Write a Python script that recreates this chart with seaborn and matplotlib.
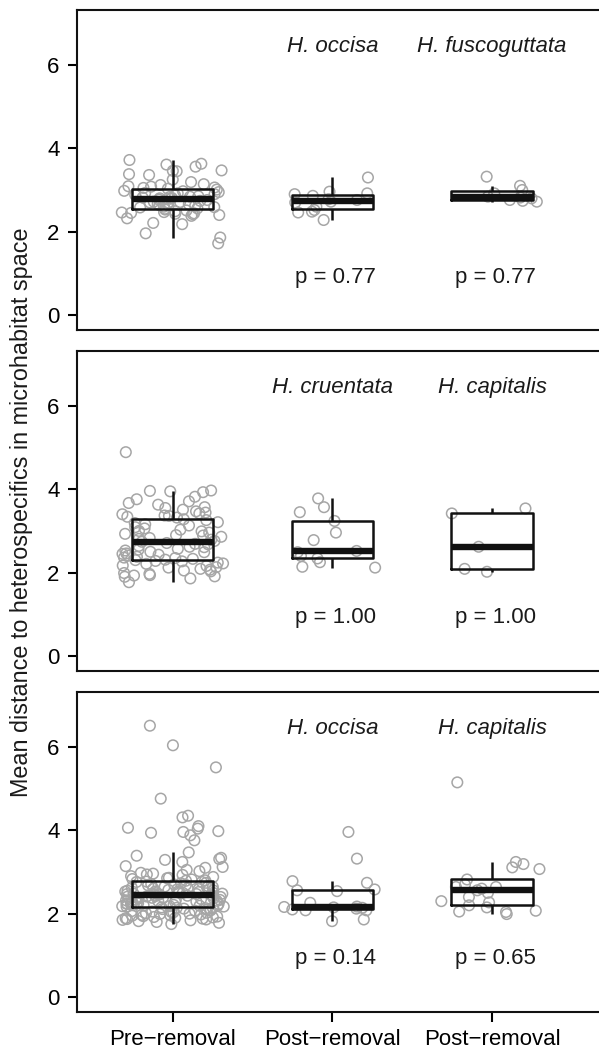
import numpy as np
import pandas as pd
import matplotlib
matplotlib.use("Agg")
import matplotlib.pyplot as plt
import seaborn as sns

# ---------------- data ----------------
group_order = ["pre", "post_a", "post_b"]
xtick_labels = ["Pre\u2212removal", "Post\u2212removal", "Post\u2212removal"]

# Panel 1
pre_1 = [3.72, 3.63, 3.61, 3.56, 3.47, 3.45, 3.46, 3.38, 3.36, 3.25, 3.19, 3.14, 3.12, 3.09, 3.08, 3.06, 3.05,
         3.03, 3.01, 2.98, 2.97, 2.95, 2.93, 2.92, 2.90, 2.88, 2.87, 2.85, 2.84, 2.83, 2.82, 2.81, 2.80, 2.79,
         2.77, 2.76, 2.74, 2.72, 2.71, 2.70, 2.69, 2.67, 2.66, 2.64, 2.63, 2.62, 2.60, 2.59, 2.58, 2.56, 2.55,
         2.53, 2.51, 2.49, 2.47, 2.46, 2.45, 2.44, 2.43, 2.42, 2.40, 2.38, 2.32, 2.21, 2.18, 1.96, 1.86, 1.72]
post_a_1 = [3.30, 2.96, 2.92, 2.90, 2.86, 2.78, 2.76, 2.72, 2.70, 2.60, 2.52, 2.48, 2.46, 2.28]
post_b_1 = [3.32, 3.10, 3.00, 2.92, 2.84, 2.82, 2.80, 2.76, 2.74, 2.72]
species_1 = ["H. occisa", "H. fuscoguttata"]
pvals_1 = ["p = 0.77", "p = 0.77"]

# Panel 2
pre_2 = [4.89, 3.97, 3.96, 3.95, 3.93, 3.82, 3.76, 3.71, 3.67, 3.63, 3.57, 3.55, 3.51, 3.47, 3.44, 3.42, 3.40,
         3.37, 3.36, 3.34, 3.32,
         3.28, 3.26, 3.21, 3.19, 3.16, 3.13, 3.09, 3.06, 3.03, 3.00, 2.99, 2.96, 2.93, 2.90, 2.89, 2.86, 2.83,
         2.81, 2.79, 2.76, 2.74,
         2.71, 2.69, 2.68, 2.64, 2.62, 2.61, 2.57, 2.55, 2.53, 2.50, 2.49, 2.46, 2.45, 2.43, 2.41, 2.38, 2.36,
         2.35, 2.33, 2.31, 2.30,
         2.28, 2.27, 2.24, 2.22, 2.21, 2.17, 2.16, 2.13, 2.12, 2.09, 2.07, 2.05, 2.03, 1.99, 1.97, 1.94, 1.93,
         1.91, 1.90, 1.86, 1.77]
post_a_2 = [3.78, 3.57, 3.45, 3.24, 2.96, 2.78, 2.52, 2.49, 2.40, 2.34, 2.25, 2.14, 2.12]
post_b_2 = [3.54, 3.42, 2.62, 2.09, 2.02]
species_2 = ["H. cruentata", "H. capitalis"]
pvals_2 = ["p = 1.00", "p = 1.00"]

# Panel 3
pre_3 = [6.51, 6.04, 5.51, 4.76, 4.35, 4.31, 4.10, 4.06, 4.04, 3.98, 3.96, 3.94, 3.88, 3.76, 3.47, 3.39, 3.34,
         3.31, 3.29, 3.24, 3.14, 3.12, 3.10, 3.05, 3.02, 2.98, 2.96, 2.94, 2.93, 2.90, 2.88, 2.86, 2.85, 2.83,
         2.82, 2.80, 2.79,
         2.77, 2.76, 2.76, 2.74, 2.73, 2.71, 2.70, 2.69, 2.68, 2.66, 2.65, 2.64, 2.63, 2.62, 2.61, 2.60, 2.59,
         2.58, 2.57, 2.56, 2.55, 2.54, 2.53, 2.53, 2.52, 2.51, 2.50, 2.50, 2.49, 2.48, 2.48, 2.47, 2.47, 2.46,
         2.46, 2.45, 2.45,
         2.43, 2.43, 2.42, 2.41, 2.41, 2.40, 2.39, 2.38, 2.38, 2.37, 2.36, 2.35, 2.34, 2.33, 2.33, 2.32, 2.31,
         2.30, 2.29, 2.28, 2.27, 2.27, 2.26, 2.25, 2.24, 2.24, 2.23, 2.22, 2.21, 2.21, 2.20, 2.19, 2.19, 2.18,
         2.18, 2.17, 2.17,
         2.15, 2.14, 2.14, 2.13, 2.12, 2.11, 2.10, 2.09, 2.08, 2.07, 2.06, 2.05, 2.04, 2.03, 2.02, 2.01, 2.00,
         1.99, 1.98, 1.97, 1.96, 1.95, 1.94, 1.93, 1.92, 1.91, 1.90, 1.89, 1.88, 1.87, 1.86, 1.85, 1.84, 1.82,
         1.80, 1.78, 1.75]
post_a_3 = [3.96, 3.32, 2.78, 2.74, 2.58, 2.56, 2.54, 2.26, 2.17, 2.16, 2.15, 2.14, 2.12, 2.10, 2.08, 2.08,
            1.86, 1.82]
post_b_3 = [5.15, 3.24, 3.19, 3.11, 3.07, 2.82, 2.70, 2.64, 2.64, 2.60, 2.56, 2.50, 2.40, 2.30, 2.27, 2.20,
            2.15, 2.07, 2.05, 2.04, 1.99]
species_3 = ["H. occisa", "H. capitalis"]
pvals_3 = ["p = 0.14", "p = 0.65"]

y_ticks = [0, 2, 4, 6]
y_label = "Mean distance to heterospecifics in microhabitat space"

# ---------------- style ----------------
sns.set_theme(style="ticks")
plt.rcParams['font.family'] = ['Liberation Sans', 'DejaVu Sans']
plt.rcParams['axes.edgecolor'] = 'black'
plt.rcParams['axes.linewidth'] = 1.5
plt.rcParams['xtick.color'] = 'black'
plt.rcParams['ytick.color'] = 'black'
plt.rcParams['text.color'] = '#1a1a1a'

FS = 16
np.random.seed(7)

fig = plt.figure(figsize=(5.99, 10.5), dpi=100)
left, width, height = 0.1285, 0.882, 0.3048
bottoms = [0.6857, 0.3610, 0.0362]

panels = [
    (pre_1, post_a_1, post_b_1, species_1, pvals_1),
    (pre_2, post_a_2, post_b_2, species_2, pvals_2),
    (pre_3, post_a_3, post_b_3, species_3, pvals_3),
]

point_color = "#a6a6a6"

for i, (pre, pa, pb, species, pvals) in enumerate(panels):
    ax = fig.add_axes([left, bottoms[i], width, height])
    df = pd.DataFrame({
        "grp": ["pre"] * len(pre) + ["post_a"] * len(pa) + ["post_b"] * len(pb),
        "val": pre + pa + pb,
    })
    sns.stripplot(data=df, x="grp", y="val", order=group_order, jitter=0.32,
                  size=7.6, color=point_color, edgecolor=point_color,
                  linewidth=1.1, ax=ax, zorder=1)
    for c in ax.collections:
        c.set_facecolor("none")
        c.set_edgecolor(point_color)
        c.set_linewidth(1.1)
    sns.boxplot(data=df, x="grp", y="val", order=group_order, fill=False,
                color="#111111", width=0.51, showfliers=False, showcaps=False,
                linewidth=1.8, whis=1.5,
                medianprops=dict(linewidth=4.6, color="#111111"), ax=ax)

    ax.set_xlim(-0.6, 2.71)
    ax.set_ylim(-0.36, 7.32)
    ax.set_yticks(y_ticks)
    ax.set_yticklabels([str(t) for t in y_ticks])
    ax.set_xlabel("")
    ax.set_ylabel("")
    ax.tick_params(axis='y', direction='out', length=6.5, width=1.5,
                   labelsize=FS, pad=6)
    for s in ax.spines.values():
        s.set_linewidth(1.5)
        s.set_color('#111111')

    if i < 2:
        ax.tick_params(axis='x', bottom=False, labelbottom=False)
    else:
        ax.set_xticks([0, 1, 2])
        ax.set_xticklabels(xtick_labels)
        ax.tick_params(axis='x', direction='out', length=7, width=1.5,
                       labelsize=FS, pad=5)

    for j in range(2):
        ax.text(1 + j, 6.3, species[j], ha='center', va='baseline',
                fontsize=FS, style='italic')
        ax.text(1.02 + j, 0.78, pvals[j], ha='center', va='baseline',
                fontsize=FS)

fig.text(0.036, 0.512, y_label, rotation=90, ha='center', va='center', fontsize=16.8)

fig.savefig("out.png", dpi=100)
